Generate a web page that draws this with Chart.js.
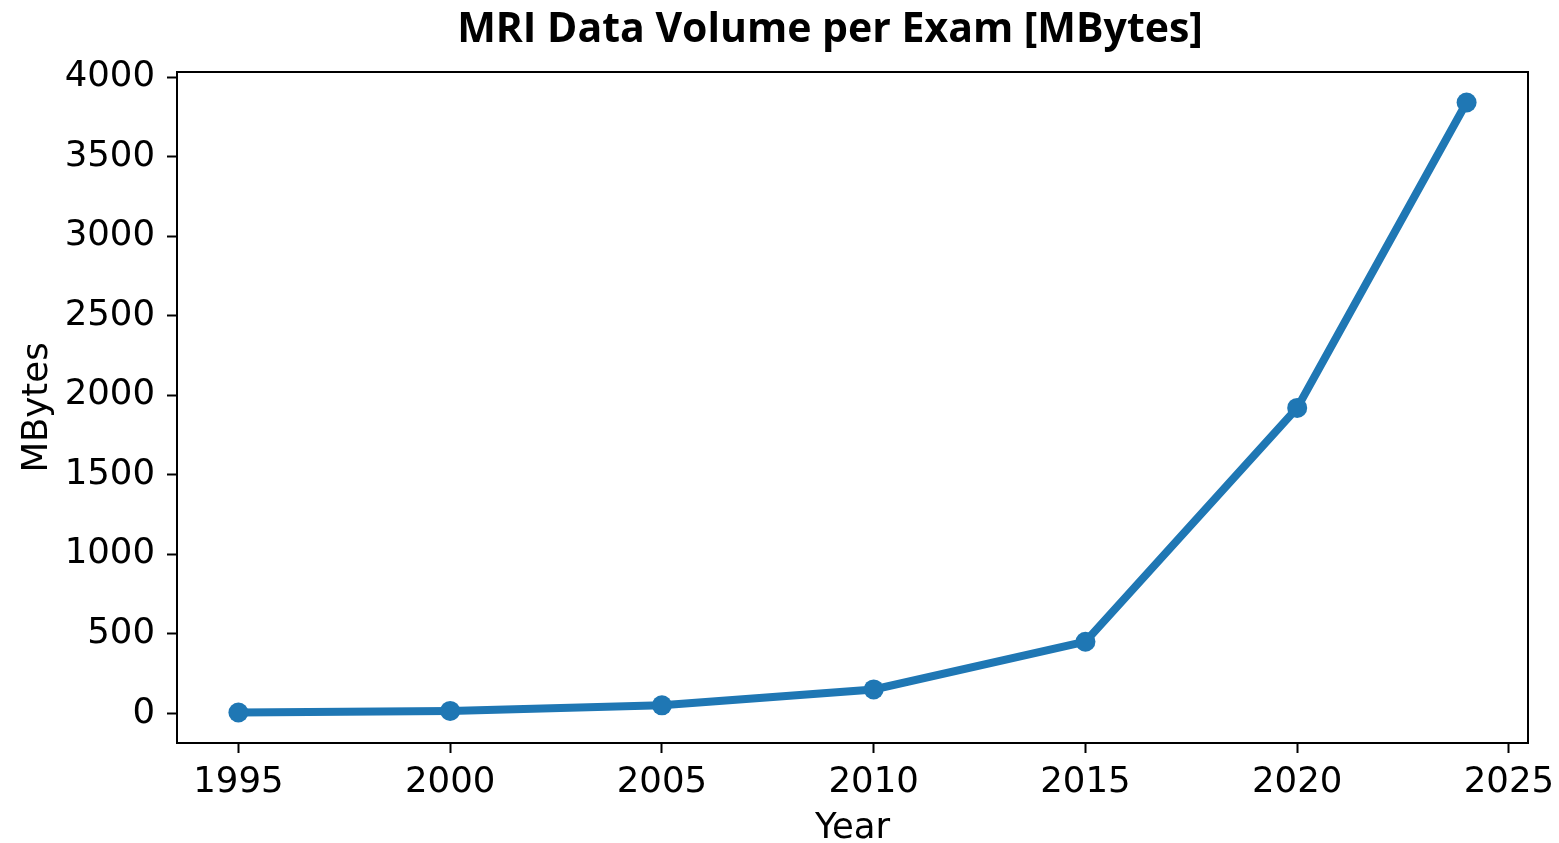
<!DOCTYPE html>
<html>
<head>
<meta charset="utf-8">
<script src="https://cdn.jsdelivr.net/npm/chart.js@4.4.1/dist/chart.umd.min.js"></script>
<style>
  html, body { margin: 0; padding: 0; background: #fff; }
  #wrap { width: 1559px; height: 843px; }
</style>
</head>
<body>
<div id="wrap"><canvas id="mriChart" width="1559" height="843"></canvas></div>
<script>
const years = [1995, 2000, 2005, 2010, 2015, 2020, 2024];
const mbytes = [5, 15, 50, 150, 450, 1920, 3840];
const xTicks = [1995, 2000, 2005, 2010, 2015, 2020, 2025];
const yTicks = [0, 500, 1000, 1500, 2000, 2500, 3000, 3500, 4000];

const titleText = 'MRI Data Volume per Exam [MBytes]';
const tickFont = { family: 'DejaVu Sans', size: 35.5 };

// matplotlib style box + title
const framePlugin = {
  id: 'frame',
  afterDatasetsDraw(chart) {
    const { ctx, chartArea: a } = chart;
    ctx.save();
    ctx.strokeStyle = '#000';
    ctx.lineWidth = 2;
    ctx.strokeRect(a.left, a.top, a.right - a.left, a.bottom - a.top);
    ctx.restore();
  },
  afterDraw(chart) {
    const { ctx } = chart;
    ctx.save();
    ctx.fillStyle = '#000';
    ctx.font = 'bold 41px "Open Sans"';
    ctx.textAlign = 'center';
    ctx.textBaseline = 'middle';
    ctx.fillText(titleText, 830, 30);
    ctx.restore();
  }
};

new Chart(document.getElementById('mriChart'), {
  type: 'line',
  data: {
    datasets: [{
      label: 'MBytes',
      data: years.map((y, i) => ({ x: y, y: mbytes[i] })),
      borderColor: '#1f77b4',
      backgroundColor: '#1f77b4',
      borderWidth: 8,
      pointRadius: 10,
      pointHoverRadius: 10,
      pointBorderWidth: 0,
      tension: 0
    }]
  },
  options: {
    responsive: false,
    animation: false,
    events: [],
    layout: { padding: { top: 72, right: 31, left: 0, bottom: 0 } },
    plugins: {
      legend: { display: false },
      title: { display: false },
      tooltip: { enabled: false }
    },
    scales: {
      x: {
        type: 'linear',
        min: 1993.55,
        max: 2025.45,
        afterBuildTicks: (s) => { s.ticks = xTicks.map((v) => ({ value: v })); },
        afterFit: (s) => { s.height = 100; s.paddingLeft = 0; s.paddingRight = 0; },
        ticks: {
          color: '#000',
          font: tickFont,
          padding: 8,
          maxRotation: 0,
          autoSkip: false,
          callback: (v) => String(v)
        },
        grid: {
          drawOnChartArea: false,
          drawTicks: true,
          tickLength: 10,
          tickWidth: 2,
          color: '#000'
        },
        border: { display: true, color: '#000', width: 2 },
        title: {
          display: true,
          text: 'Year',
          color: '#000',
          font: tickFont,
          padding: { top: 0, bottom: -7 }
        }
      },
      y: {
        min: -186.75,
        max: 4031.75,
        afterBuildTicks: (s) => { s.ticks = yTicks.map((v) => ({ value: v })); },
        afterFit: (s) => { s.width = 177; s.paddingTop = 0; s.paddingBottom = 0; },
        ticks: {
          color: '#000',
          font: tickFont,
          padding: 12,
          autoSkip: false,
          callback: (v) => String(v)
        },
        grid: {
          drawOnChartArea: false,
          drawTicks: true,
          tickLength: 10,
          tickWidth: 2,
          color: '#000'
        },
        border: { display: true, color: '#000', width: 2 },
        title: {
          display: true,
          text: 'MBytes',
          color: '#000',
          font: tickFont,
          padding: { top: 16, bottom: 0 }
        }
      }
    }
  },
  plugins: [framePlugin]
});
</script>
</body>
</html>
